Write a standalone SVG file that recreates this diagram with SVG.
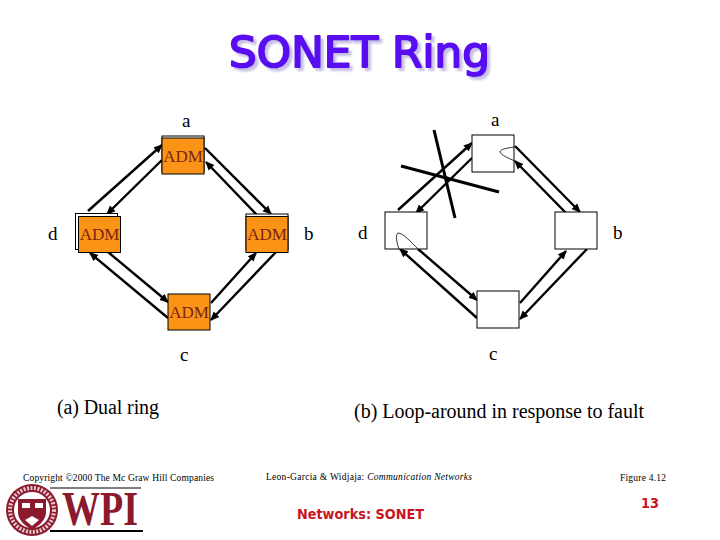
<svg xmlns="http://www.w3.org/2000/svg" width="720" height="540" viewBox="0 0 720 540">
<style>
.t{font-family:"Liberation Serif",serif;font-size:19px;fill:#000}
.cap{font-family:"Liberation Serif",serif;font-size:20px;fill:#000}
.adm{font-family:"Liberation Serif",serif;font-size:17px;fill:#7a2412;text-anchor:middle}
.box{fill:#fb9416;stroke:#000;stroke-width:1}
.wbox{fill:#fff;stroke:#000;stroke-width:1}
.c line{stroke:#000;stroke-width:2.4;marker-end:url(#ah)}
.s{font-family:"Liberation Serif",serif;font-size:9.5px;fill:#000}
.red{font-family:"DejaVu Sans",sans-serif;font-weight:bold;fill:#c8141e}
</style>
<defs>
<marker id="ah" markerUnits="userSpaceOnUse" markerWidth="9" markerHeight="9" refX="8" refY="4.5" orient="auto"><path d="M0 0.5L9 4.5L0 8.5z" fill="#000"/></marker>
<filter id="sh" x="-5%" y="-15%" width="110%" height="140%"><feDropShadow dx="3" dy="3" stdDeviation="0.8" flood-color="#c8c0e4"/></filter>
</defs>
<rect width="720" height="540" fill="#fff"/>
<g id="title">
<text x="229" y="67" font-family="'DejaVu Sans',sans-serif" font-size="42" fill="#5a10f0" stroke="#5a10f0" stroke-width="2" stroke-linejoin="round" filter="url(#sh)" textLength="261" lengthAdjust="spacingAndGlyphs">SONET Ring</text>
</g>
<g id="connectors" class="c">
<line x1="88" y1="211" x2="162" y2="145"/>
<line x1="162" y1="160" x2="107" y2="214"/>
<line x1="205" y1="148" x2="271" y2="214"/>
<line x1="257" y1="215" x2="206" y2="162"/>
<line x1="108" y1="252" x2="168" y2="302"/>
<line x1="168" y1="318" x2="90" y2="253"/>
<line x1="211" y1="303" x2="256" y2="253"/>
<line x1="276" y1="252" x2="211" y2="320"/>
<line x1="398" y1="210" x2="472" y2="143"/>
<line x1="472" y1="158" x2="416" y2="213"/>
<line x1="515" y1="146" x2="580" y2="212"/>
<line x1="566" y1="213" x2="515" y2="161"/>
<line x1="418" y1="249" x2="477" y2="300"/>
<line x1="477" y1="318" x2="400" y2="249"/>
<line x1="520" y1="303" x2="566" y2="251"/>
<line x1="587" y1="249" x2="520" y2="319"/>
</g>
<g id="node-a1"><rect x="162" y="136" width="42" height="36" class="wbox"/><rect x="162" y="138" width="42" height="36" class="box"/><text x="183" y="162" class="adm">ADM</text></g>
<g id="node-d1"><rect x="75.500" y="213.500" width="42" height="36" class="wbox"/><rect x="78.500" y="216.500" width="42" height="36" class="box"/><text x="99.500" y="240" class="adm">ADM</text></g>
<g id="node-b1"><rect x="246" y="214" width="42" height="36" class="wbox"/><rect x="246" y="216.500" width="42" height="36" class="box"/><text x="267" y="240" class="adm">ADM</text></g>
<g id="node-c1"><rect x="168" y="294" width="42" height="36" class="box"/><text x="189" y="318" class="adm">ADM</text></g>
<g id="node-a2"><rect x="472" y="135" width="42" height="37" class="wbox"/></g>
<g id="node-d2"><rect x="385" y="212" width="42" height="37" class="wbox"/></g>
<g id="node-b2"><rect x="555" y="212" width="42" height="37" class="wbox"/></g>
<g id="node-c2"><rect x="477" y="291" width="42" height="37" class="wbox"/></g>
<g id="fault" fill="none" stroke="#000">
<path d="M514 147C508 148 500 149 500 152C501 155 508 158 515 161" stroke-width="0.8"/>
<path d="M418 249C411 242 403 233 398 233C395 235 397 244 399 249" stroke-width="0.8"/>
<line x1="434" y1="130" x2="455" y2="218" stroke-width="3"/>
<line x1="401" y1="166" x2="499" y2="192" stroke-width="3"/>
<circle cx="447" cy="179" r="2.500" fill="#000" stroke="none"/>
</g>
<g id="labels">
<text x="182" y="127" class="t">a</text><text x="491" y="126" class="t">a</text>
<text x="48" y="240" class="t">d</text><text x="304" y="240" class="t">b</text>
<text x="358" y="239" class="t">d</text><text x="613" y="239" class="t">b</text>
<text x="180" y="361" class="t">c</text><text x="489" y="360" class="t">c</text>
<text x="57" y="414" class="cap" textLength="102">(a) Dual ring</text>
<text x="354" y="418" class="cap" textLength="290">(b) Loop-around in response to fault</text>
<text x="23" y="481" class="s" textLength="191">Copyright ©2000 The Mc Graw Hill Companies</text>
<text x="266" y="480" class="s" textLength="206">Leon-Garcia &amp; Widjaja:  <tspan font-style="italic">Communication Networks</tspan></text>
<text x="620" y="481" class="s" textLength="46">Figure 4.12</text>
<text x="297" y="519" class="red" font-size="13.500" textLength="127" lengthAdjust="spacingAndGlyphs">Networks: SONET</text>
<text x="641" y="508" class="red" font-size="14" textLength="18" lengthAdjust="spacingAndGlyphs">13</text>
</g>
<g id="wpi-logo">
<circle cx="32" cy="510" r="26" fill="#8c1a2e"/>
<circle cx="32" cy="510" r="22" fill="none" stroke="#e8c8cc" stroke-width="4" stroke-dasharray="2 1.500"/>
<circle cx="32" cy="510" r="18" fill="#fff"/>
<path d="M18 499H46V512C46 521 38 526 32 530C26 526 18 521 18 512Z" fill="#8c1a2e"/>
<rect x="22" y="503" width="8" height="5" fill="#fff"/><rect x="35" y="503" width="8" height="5" fill="#fff"/>
<path d="M25 520L32 516L39 520L32 526Z" fill="#fff"/>
<line x1="50" y1="488" x2="141" y2="488" stroke="#000" stroke-width="1"/>
<line x1="50" y1="531" x2="143" y2="531" stroke="#000" stroke-width="2"/>
<text x="62" y="525" font-family="'Liberation Serif',serif" font-weight="bold" font-size="48" fill="#8c1a2e" textLength="76" lengthAdjust="spacingAndGlyphs">WPI</text>
</g>
</svg>
